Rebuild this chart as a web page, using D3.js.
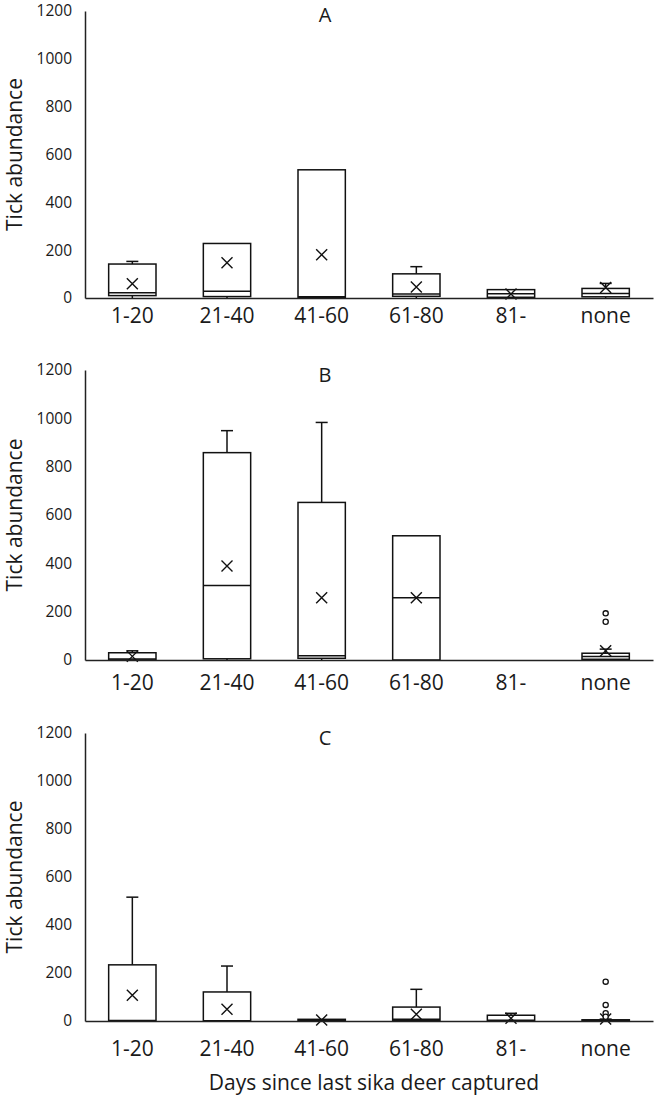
<!DOCTYPE html>
<html><head><meta charset="utf-8">
<script src="https://cdn.jsdelivr.net/npm/d3@7"></script>
<style>
body{margin:0;background:#fff;}
svg{display:block;}
text{font-family:"Open Sans","Noto Sans",sans-serif;fill:#1a1a1a;}
</style></head>
<body>
<svg id="chart" width="656" height="1099"></svg>
<script>
const categories = ["1-20","21-40","41-60","61-80","81-","none"];
const yTicks = [0,200,400,600,800,1000,1200];
const panelTitles = ["A","B","C"];

// Panel A
const minA  = [0, 0, 0, 0, 0, 0];
const q1A   = [10, 6, 2, 7, 3, 5];
const medA  = [22, 28, 5, 17, 18, 19];
const q3A   = [142, 228, 536, 101, 35, 40];
const maxA  = [153, 228, 536, 131, 35, 61];
const meanA = [60, 147, 181, 46, 17, 44];
const outA  = [];

// Panel B
const minB  = [0, 0, 0, 0, null, 0];
const q1B   = [0, 5, 7, 0, null, 3];
const medB  = [4, 308, 18, 258, null, 14];
const q3B   = [30, 858, 652, 514, null, 28];
const maxB  = [38, 949, 983, 514, null, 45];
const meanB = [15, 389, 258, 258, null, 38];
const outB  = [["none",193],["none",158]];

// Panel C
const minC  = [0, 0, 0, 0, 0, 0];
const q1C   = [0, 0, 0, 2, 0, 0];
const medC  = [2, 1, 2, 7, 3, 2];
const q3C   = [234, 121, 7, 58, 24, 5];
const maxC  = [516, 229, 7, 132, 32, 8];
const meanC = [107, 49, 4, 28, 11, 8];
const outC  = [["none",164],["none",67],["none",32],["none",18]];

const svg = d3.select("#chart");
const x = d3.scaleBand().domain(categories).range([85, 653]).paddingInner(0.5).paddingOuter(0.25);
const tops = [11, 370, 733];
const bottoms = [298, 660, 1021];
const xLabelPad = [10, 15, 20];

const panels = [
  {min:minA,q1:q1A,med:medA,q3:q3A,max:maxA,mean:meanA,out:outA},
  {min:minB,q1:q1B,med:medB,q3:q3B,max:maxB,mean:meanB,out:outB},
  {min:minC,q1:q1C,med:medC,q3:q3C,max:maxC,mean:meanC,out:outC}
];

panels.forEach((p, i) => {
  const y = d3.scaleLinear().domain([0, 1200]).range([bottoms[i], tops[i]]);
  const g = svg.append("g");

  categories.forEach((c, j) => {
    if (p.q3[j] == null) return;
    const x0 = x(c), bw = x.bandwidth(), cx = x0 + bw / 2;
    const gg = g.append("g").attr("stroke", "#111").attr("fill", "none").attr("stroke-width", 1.5);
    if (p.max[j] > p.q3[j]) {
      gg.append("line").attr("x1", cx).attr("x2", cx).attr("y1", y(p.q3[j])).attr("y2", y(p.max[j]));
      gg.append("line").attr("x1", cx - 6).attr("x2", cx + 6).attr("y1", y(p.max[j])).attr("y2", y(p.max[j]));
    }
    if (p.min[j] < p.q1[j]) {
      gg.append("line").attr("x1", cx).attr("x2", cx).attr("y1", y(p.q1[j])).attr("y2", y(p.min[j]));
    }
    gg.append("rect").attr("x", x0).attr("width", bw)
      .attr("y", y(p.q3[j])).attr("height", Math.max(0, y(p.q1[j]) - y(p.q3[j])))
      .attr("fill", "#fff");
    gg.append("line").attr("x1", x0).attr("x2", x0 + bw).attr("y1", y(p.med[j])).attr("y2", y(p.med[j]));
    const my = y(p.mean[j]), s = 5.5;
    gg.append("path").attr("stroke-width", 1.4)
      .attr("d", `M${cx - s},${my - s}L${cx + s},${my + s}M${cx - s},${my + s}L${cx + s},${my - s}`);
  });

  g.selectAll("circle.o").data(p.out).join("circle")
    .attr("cx", d => x(d[0]) + x.bandwidth() / 2)
    .attr("cy", d => y(d[1]))
    .attr("r", 2.6).attr("fill", "#fff").attr("stroke", "#111").attr("stroke-width", 1.3);

  const ya = d3.axisLeft(y).tickValues(yTicks).tickSize(0).tickPadding(13).tickFormat(d3.format("d"));
  const yg = g.append("g").attr("transform", "translate(85,0)").call(ya);
  yg.select(".domain").attr("stroke", "#222").attr("stroke-width", 1.5);
  yg.selectAll("text").style("font-size", "15.5px").attr("fill", "#1a1a1a");

  const xa = d3.axisBottom(x).tickSize(0).tickPadding(xLabelPad[i]);
  const xg = g.append("g").attr("transform", `translate(0,${bottoms[i]})`).call(xa);
  xg.select(".domain").attr("stroke", "#222").attr("stroke-width", 1.5);
  xg.selectAll("text").style("font-size", "21px").attr("fill", "#1a1a1a");

  g.append("text").attr("x", 325).attr("y", [15, 375, 738][i]).attr("dy", "0.35em")
    .attr("text-anchor", "middle").style("font-size", "20px").text(panelTitles[i]);

  g.append("text").attr("transform", `translate(15,${(tops[i] + bottoms[i]) / 2}) rotate(-90)`)
    .attr("dy", "0.35em").attr("text-anchor", "middle").style("font-size", "21px").text("Tick abundance");
});

svg.append("text").attr("x", 374).attr("y", 1090).attr("text-anchor", "middle")
  .style("font-size", "21px").text("Days since last sika deer captured");
</script>
</body></html>
